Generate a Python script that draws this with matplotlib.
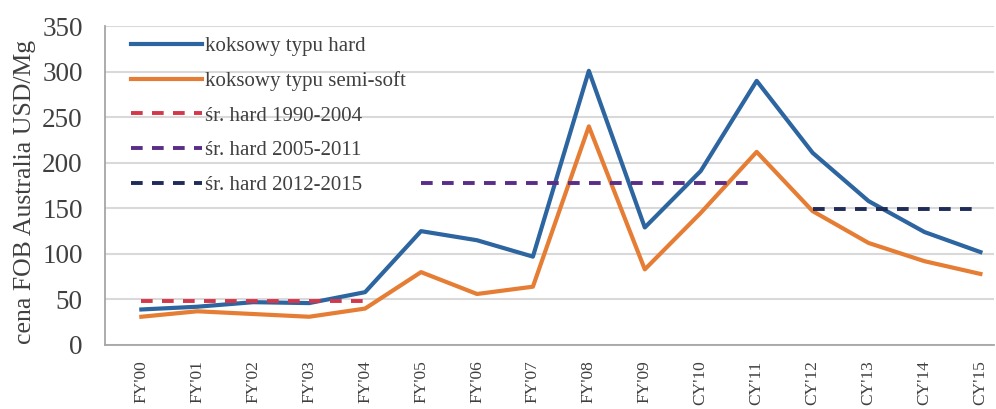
import matplotlib
matplotlib.use("Agg")
import matplotlib.pyplot as plt

categories = ["FY'00", "FY'01", "FY'02", "FY'03", "FY'04", "FY'05", "FY'06", "FY'07",
              "FY'08", "FY'09", "CY'10", "CY'11", "CY'12", "CY'13", "CY'14", "CY'15"]
hard = [39, 42, 47, 46, 58, 125, 115, 97, 301, 129, 191, 290, 211, 158, 124, 102]
semi_soft = [31, 37, 34, 31, 40, 80, 56, 64, 240, 83, 145, 212, 147, 112, 92, 78]

avg_labels = ["śr. hard 1990-2004", "śr. hard 2005-2011", "śr. hard 2012-2015"]
avg_values = [48, 178, 149]
avg_start = ["FY'00", "FY'05", "CY'12"]
avg_end = ["FY'04", "CY'11", "CY'15"]
avg_colors = ["#D3384A", "#5A2D88", "#1F2C58"]

yticks = [0, 50, 100, 150, 200, 250, 300, 350]

plt.rcParams['font.family'] = ['Liberation Serif', 'DejaVu Serif']

fig = plt.figure(figsize=(9.96, 4.09), dpi=100)
ax = fig.add_axes([0.1054, 0.1565, 0.893, 0.7795])

x = list(range(len(categories)))
ax.plot(x, hard, color="#2C65A0", lw=3.0, label="koksowy typu hard", zorder=4)
ax.plot(x, semi_soft, color="#E67D35", lw=3.0, label="koksowy typu semi-soft", zorder=3)
for lab, v, s, e, c in zip(avg_labels, avg_values, avg_start, avg_end, avg_colors):
    i0, i1 = categories.index(s), categories.index(e)
    ax.plot([i0, i1], [v, v], color=c, lw=2.8, ls=(0, (3.0, 2.4)), label=lab, zorder=5)

ax.set_ylim(0, 350)
ax.set_xlim(-0.65, 15.25)
ax.set_yticks(yticks)
ax.set_xticks(x)
ax.set_xticklabels(categories, rotation=90, fontsize=12.5, color="#404040")
ax.tick_params(axis='y', labelsize=19.5, length=0, pad=16, labelcolor="#404040")
ax.tick_params(axis='x', length=0, pad=11)
ax.set_ylabel("cena FOB Australia USD/Mg", fontsize=18.5, color="#404040")
ax.yaxis.set_label_coords(-0.078, 0.48)
ax.grid(axis='y', color="#D9D9D9", lw=1.5)
ax.set_axisbelow(True)
for sp in ["top", "right"]:
    ax.spines[sp].set_visible(False)
ax.spines["left"].set_color("#A6A6A6")
ax.spines["bottom"].set_color("#A6A6A6")
ax.spines["left"].set_linewidth(1.3)
ax.spines["bottom"].set_linewidth(1.3)

leg = ax.legend(loc="upper left", frameon=False, fontsize=15, handlelength=3.4,
                handletextpad=0.15, labelspacing=0.72, bbox_to_anchor=(0.018, 1.0),
                borderaxespad=0.1)
for t in leg.get_texts():
    t.set_color("#404040")

fig.savefig("out.png", dpi=100)
